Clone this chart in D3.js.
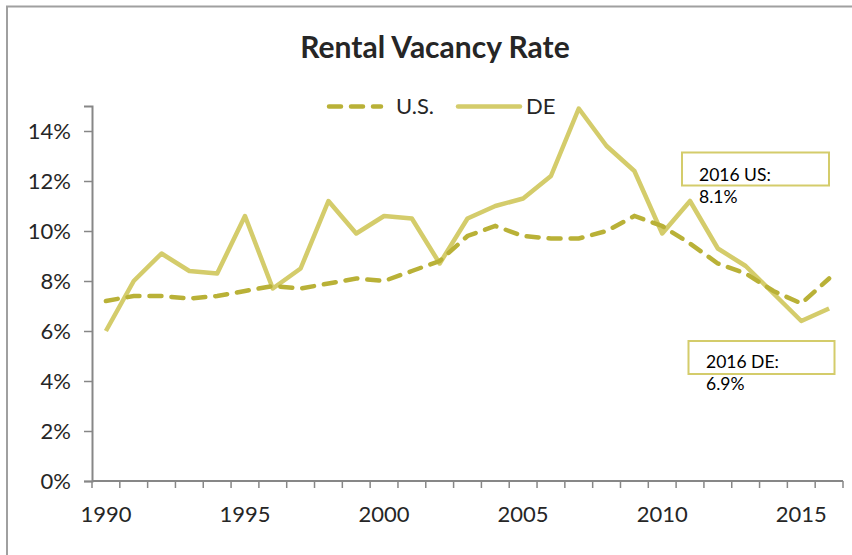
<!DOCTYPE html>
<html>
<head>
<meta charset="utf-8">
<script src="https://cdn.jsdelivr.net/npm/d3@7"></script>
<style>
  body { margin: 0; background: #fff; }
  text { font-family: Lato, "Open Sans", sans-serif; fill: #262626; }
</style>
</head>
<body>
<svg width="852" height="555"></svg>
<script>
let years = d3.range(1990, 2017);
// rental vacancy rate, percent
let usRate = [7.2, 7.4, 7.4, 7.3, 7.4, 7.6, 7.8, 7.7, 7.9, 8.1,
  8.0, 8.4, 8.8, 9.8, 10.2, 9.8, 9.7, 9.7, 10.0, 10.6,
  10.2, 9.5, 8.7, 8.3, 7.6, 7.1, 8.1];
let deRate = [6.0, 8.0, 9.1, 8.4, 8.3, 10.6, 7.7, 8.5, 11.2, 9.9,
  10.6, 10.5, 8.7, 10.5, 11.0, 11.3, 12.2, 14.9, 13.4, 12.4,
  9.9, 11.2, 9.3, 8.6, 7.5, 6.4, 6.9];
let yTicks = [0, 2, 4, 6, 8, 10, 12, 14];
let xLabels = [1990, 1995, 2000, 2005, 2010, 2015];
let notes = [
  { lines: ["2016 US:", "8.1%"] },
  { lines: ["2016 DE:", "6.9%"] }
];

let usColor = "#b9b137";
let deColor = "#d4cc6b";

let svg = d3.select("svg");

// outer frame
svg.append("rect")
  .attr("x", 7).attr("y", 6.5)
  .attr("width", 860).attr("height", 600)
  .attr("fill", "none").attr("stroke", "#a0a0a0").attr("stroke-width", 2);

let plotLeft = 92, plotRight = 843, plotTop = 106, plotBottom = 481;

let x = d3.scaleBand().domain(years).range([plotLeft, plotRight]);
let y = d3.scaleLinear().domain([0, 15]).range([plotBottom, plotTop]);
let cx = (d) => x(d) + x.bandwidth() / 2;

// title
svg.append("text")
  .attr("x", 435).attr("y", 58)
  .attr("text-anchor", "middle")
  .attr("font-size", 30).attr("font-weight", "bold")
  .attr("fill", "#2a2a22")
  .text("Rental Vacancy Rate");

// y axis
let yAxis = svg.append("g")
  .attr("transform", `translate(${plotLeft},0)`)
  .call(d3.axisLeft(y).tickValues(yTicks).tickSize(8).tickPadding(13)
    .tickFormat((d) => d + "%"));
yAxis.select(".domain").attr("stroke", "#878787").attr("stroke-width", 2);
yAxis.selectAll(".tick line").attr("stroke", "#878787").attr("stroke-width", 1.5);
yAxis.selectAll(".tick text").attr("font-size", 22).attr("fill", "#262626")
  .style("font-family", "Lato, sans-serif");

// x axis: ticks between categories
let xAxis = svg.append("g").attr("transform", `translate(0,${plotBottom})`);
xAxis.append("line")
  .attr("x1", plotLeft).attr("x2", plotRight)
  .attr("stroke", "#878787").attr("stroke-width", 2);
xAxis.selectAll(".tk")
  .data(years.concat([2017]))
  .enter()
  .append("line")
  .attr("x1", (d) => d === 2017 ? plotRight : x(d))
  .attr("x2", (d) => d === 2017 ? plotRight : x(d))
  .attr("y1", 0).attr("y2", 7)
  .attr("stroke", "#878787").attr("stroke-width", 1.5);
xAxis.selectAll(".lbl")
  .data(xLabels)
  .enter()
  .append("text")
  .attr("x", cx)
  .attr("y", 41)
  .attr("text-anchor", "middle")
  .attr("font-size", 22)
  .text((d) => d);

let line = d3.line().x((d, i) => cx(years[i])).y((d) => y(d));

svg.append("path")
  .datum(deRate)
  .attr("d", line)
  .attr("fill", "none")
  .attr("stroke", deColor)
  .attr("stroke-width", 4.5)
  .attr("stroke-linejoin", "round");

svg.append("path")
  .datum(usRate)
  .attr("d", line)
  .attr("fill", "none")
  .attr("stroke", usColor)
  .attr("stroke-width", 4.5)
  .attr("stroke-dasharray", "12,10")
  .attr("stroke-linecap", "round");

// legend
let legend = svg.append("g");
legend.append("line")
  .attr("x1", 329).attr("x2", 381).attr("y1", 106.5).attr("y2", 106.5)
  .attr("stroke", usColor).attr("stroke-width", 4.5)
  .attr("stroke-dasharray", "12,10").attr("stroke-linecap", "round");
legend.append("text").attr("x", 396).attr("y", 114).attr("font-size", 22).text("U.S.");
legend.append("line")
  .attr("x1", 458).attr("x2", 520).attr("y1", 106.5).attr("y2", 106.5)
  .attr("stroke", deColor).attr("stroke-width", 4.5).attr("stroke-linecap", "round");
legend.append("text").attr("x", 526).attr("y", 114).attr("font-size", 22).text("DE");

// annotation boxes
let boxes = [
  { x: 682, y: 152.5, w: 147, h: 33, tx: 699, ty: 181 },
  { x: 688.5, y: 341, w: 146, h: 33, tx: 706, ty: 368 }
];
boxes.forEach(function (b, i) {
  svg.append("rect")
    .attr("x", b.x).attr("y", b.y).attr("width", b.w).attr("height", b.h)
    .attr("fill", "none").attr("stroke", deColor).attr("stroke-width", 2);
  svg.append("text")
    .attr("x", b.tx).attr("y", b.ty)
    .attr("font-size", 17.5).attr("fill", "#000")
    .selectAll("tspan")
    .data(notes[i].lines)
    .enter()
    .append("tspan")
    .attr("x", b.tx)
    .attr("dy", (d, j) => j === 0 ? 0 : 22)
    .style("fill", "#000")
    .text((d) => d);
});
</script>
</body>
</html>
